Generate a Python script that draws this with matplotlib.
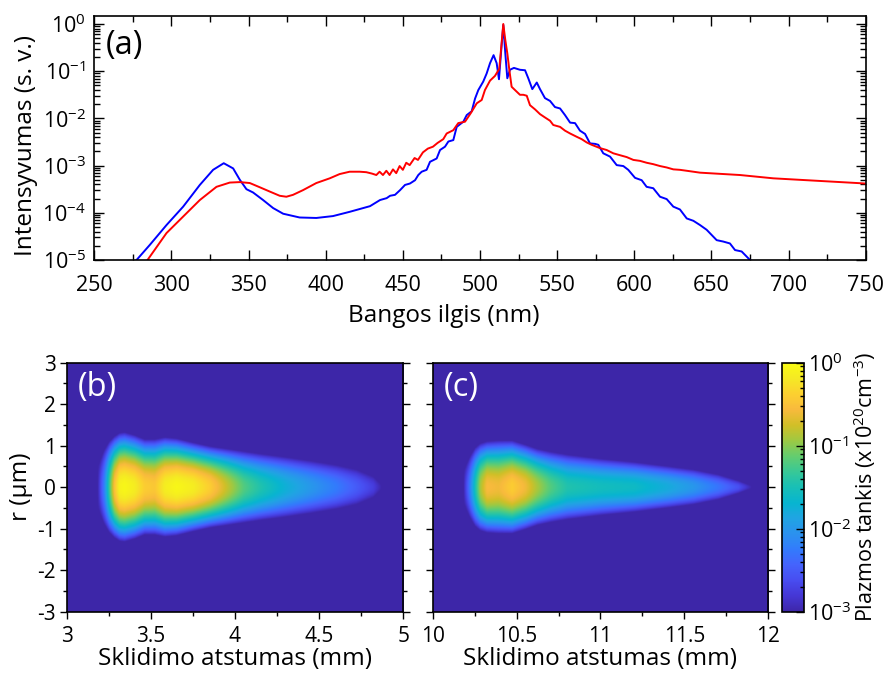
import matplotlib
matplotlib.use("Agg")
import matplotlib.pyplot as plt
import numpy as np
from matplotlib.colors import LinearSegmentedColormap, LogNorm
from matplotlib.ticker import (LogLocator, MultipleLocator, LogFormatterMathtext,
                               NullFormatter, FuncFormatter)

plt.rcParams['font.family'] = ['Open Sans', 'DejaVu Sans']
plt.rcParams['mathtext.fontset'] = 'custom'
plt.rcParams['mathtext.rm'] = 'Open Sans'
plt.rcParams['mathtext.it'] = 'Open Sans:italic'
plt.rcParams['mathtext.bf'] = 'Open Sans:bold'

# --- spectra (log10 of intensity, a.u.) ---
wl_blue = [277.4, 286.0, 296.8, 307.6, 318.4, 327.0, 333.9, 340.0, 344.3, 348.6,
           352.9, 359.4, 365.9, 372.4, 383.1, 393.9, 404.7, 415.5, 428.7, 435.2,
           439.5, 441.7, 444.9, 448.2, 451.4, 454.6, 457.9, 460.0, 462.2, 465.4,
           467.6, 471.9, 474.1, 477.3, 479.5, 482.7, 484.9, 489.2, 491.4, 494.6,
           496.8, 498.9, 502.1, 504.3, 506.5, 508.8, 510.8, 512.3, 513.6, 515.1,
           516.4, 517.7, 519.4, 522.0, 525.9, 529.2, 531.3, 533.9, 536.8, 538.9,
           542.1, 545.4, 548.6, 551.9, 555.1, 558.4, 561.6, 564.8, 568.1, 571.3,
           574.6, 576.7, 579.9, 584.3, 588.6, 592.9, 596.1, 600.5, 604.8, 608.0,
           612.3, 616.7, 621.0, 625.3, 629.6, 634.0, 638.3, 642.6, 646.9, 653.4,
           657.7, 662.0, 665.3, 669.6, 675.0]
log_blue = [-5.00, -4.68, -4.26, -3.87, -3.41, -3.09, -2.95, -3.06, -3.30, -3.50,
            -3.57, -3.73, -3.90, -4.02, -4.10, -4.11, -4.07, -3.98, -3.86, -3.73,
            -3.69, -3.64, -3.62, -3.52, -3.41, -3.38, -3.31, -3.20, -3.13, -3.09,
            -2.92, -2.85, -2.67, -2.60, -2.49, -2.46, -2.18, -2.07, -1.93, -1.85,
            -1.58, -1.40, -1.22, -1.05, -0.83, -0.66, -0.83, -1.17, -0.62, -0.02,
            -0.62, -1.15, -0.97, -0.93, -0.97, -0.98, -1.15, -1.38, -1.24, -1.38,
            -1.57, -1.63, -1.76, -1.79, -1.93, -2.09, -2.10, -2.26, -2.33, -2.53,
            -2.54, -2.56, -2.74, -2.81, -2.99, -3.01, -3.09, -3.26, -3.31, -3.45,
            -3.48, -3.66, -3.71, -3.87, -3.93, -4.12, -4.17, -4.26, -4.36, -4.58,
            -4.61, -4.65, -4.79, -4.82, -5.00]

wl_red = [284.5, 296.8, 307.6, 318.4, 329.2, 337.8, 344.3, 350.8, 357.3, 363.7,
          370.2, 374.5, 378.8, 385.3, 393.9, 402.6, 409.0, 415.5, 422.0, 426.3,
          430.0, 432.8, 434.9, 437.1, 439.3, 441.4, 443.6, 445.7, 447.9, 450.0,
          452.2, 454.4, 457.6, 459.8, 463.0, 466.2, 469.5, 472.5, 476.2, 478.4,
          482.7, 485.9, 490.3, 494.0, 497.9, 501.1, 503.2, 506.5, 509.7, 512.5,
          513.8, 515.1, 516.4, 517.7, 519.0, 520.5, 522.7, 525.9, 528.1, 530.3,
          532.4, 535.7, 538.9, 542.1, 545.4, 547.5, 551.9, 555.1, 558.4, 562.7,
          565.9, 569.2, 572.4, 577.8, 582.1, 586.4, 590.7, 595.1, 599.4, 603.7,
          608.0, 612.3, 616.7, 621.0, 625.3, 629.6, 634.0, 642.6, 668.5, 690.1,
          711.8, 750.0]
log_red = [-5.00, -4.43, -4.08, -3.73, -3.45, -3.36, -3.35, -3.37, -3.46, -3.55,
           -3.64, -3.66, -3.62, -3.52, -3.37, -3.27, -3.18, -3.13, -3.13, -3.14,
           -3.17, -3.20, -3.13, -3.20, -3.11, -3.20, -3.08, -3.16, -3.01, -3.09,
           -2.94, -2.99, -2.84, -2.88, -2.72, -2.64, -2.60, -2.52, -2.44, -2.32,
           -2.25, -2.10, -2.07, -1.89, -1.68, -1.61, -1.40, -1.20, -1.10, -0.95,
           -0.48, 0.00, -0.34, -0.62, -0.97, -1.33, -1.40, -1.50, -1.50, -1.52,
           -1.72, -1.81, -1.91, -1.98, -2.05, -2.14, -2.18, -2.26, -2.32, -2.39,
           -2.44, -2.51, -2.56, -2.63, -2.67, -2.74, -2.78, -2.82, -2.88, -2.90,
           -2.94, -2.97, -3.01, -3.04, -3.08, -3.09, -3.11, -3.15, -3.20, -3.27,
           -3.31, -3.38]

# --- plasma channel: on-axis log10 density and outer radius (um) along z (mm) ---
z_b = [3.18, 3.22, 3.25, 3.28, 3.31, 3.34, 3.40, 3.46, 3.52, 3.58, 3.65, 3.75,
       3.85, 3.95, 4.05, 4.15, 4.30, 4.45, 4.60, 4.72, 4.82, 4.87]
core_b = [-3.0, -2.2, -1.3, -0.5, -0.1, -0.05, -0.15, -0.4, -0.45, -0.15, -0.05,
          -0.15, -0.4, -0.8, -1.2, -1.45, -1.75, -2.0, -2.25, -2.5, -2.75, -3.0]
radius_b = [0.5, 0.9, 1.1, 1.22, 1.3, 1.32, 1.25, 1.15, 1.15, 1.2, 1.17, 1.07,
            0.98, 0.92, 0.86, 0.8, 0.72, 0.63, 0.53, 0.42, 0.25, 0.05]

z_c = [10.18, 10.22, 10.25, 10.28, 10.32, 10.39, 10.47, 10.55, 10.62, 10.70,
       10.80, 11.00, 11.20, 11.40, 11.55, 11.70, 11.82, 11.90]
core_c = [-3.0, -2.2, -1.5, -0.9, -0.55, -0.6, -0.4, -0.6, -0.9, -1.2,
          -1.45, -1.55, -1.6, -1.8, -2.0, -2.3, -2.6, -3.0]
radius_c = [0.4, 0.75, 0.95, 1.05, 1.1, 1.12, 1.12, 1.02, 0.92, 0.85,
            0.78, 0.68, 0.6, 0.5, 0.42, 0.3, 0.15, 0.03]

# MATLAB parula (R2014b), every 4th entry
parula = LinearSegmentedColormap.from_list('parula', [
    [0.2422, 0.1504, 0.6603], [0.2706, 0.2147, 0.8364], [0.2813, 0.3006, 0.9414],
    [0.2699, 0.3892, 0.9906], [0.1963, 0.4847, 0.9892], [0.1687, 0.5703, 0.9359],
    [0.1248, 0.6459, 0.8883], [0.0297, 0.7082, 0.8163], [0.0964, 0.7500, 0.7120],
    [0.2161, 0.7843, 0.5923], [0.3909, 0.8029, 0.4354], [0.6174, 0.7876, 0.2612],
    [0.8203, 0.7498, 0.1535], [0.9728, 0.7298, 0.2394], [0.9892, 0.8136, 0.1885],
    [0.9597, 0.9135, 0.1423], [0.9769, 0.9839, 0.0805]], N=256)


def density_map(z, core, radius, zlim):
    """Axisymmetric density: parabolic fall-off in log10 from the axis to the edge."""
    zz = np.linspace(zlim[0], zlim[1], 500)
    rr = np.linspace(-3, 3, 400)
    c = np.interp(zz, z, core, left=-3, right=-3)
    R = np.maximum(np.interp(zz, z, radius, left=0.01, right=0.01), 0.01)
    C, RR = np.meshgrid(c, rr)
    Redge, _ = np.meshgrid(R, rr)
    frac = np.clip(np.abs(RR) / Redge, 0, 1)
    logn = C - (C + 3) * frac ** 2
    return 10 ** np.clip(logn, -3, 0)


fig = plt.figure(figsize=(8.83, 6.77), dpi=100)
LFS = 17.5    # axis labels
PFS = 23.5    # panel tags

# ---- (a) spectra ----
ax = fig.add_axes([0.1068, 0.6160, 0.8736, 0.3604])
ax.semilogy(wl_blue, 10 ** np.array(log_blue), color='#0000ff', lw=1.4)
ax.semilogy(wl_red, 10 ** np.array(log_red), color='#ff0000', lw=1.4)
ax.set_xlim(250, 750)
ax.set_ylim(1e-5, 10 ** 0.17)
ax.xaxis.set_major_locator(MultipleLocator(50))
ax.xaxis.set_minor_locator(MultipleLocator(25))
ax.yaxis.set_major_locator(LogLocator(base=10, numticks=10))
ax.yaxis.set_minor_locator(LogLocator(base=10, subs=np.arange(2, 10), numticks=10))
ax.yaxis.set_major_formatter(LogFormatterMathtext())
ax.yaxis.set_minor_formatter(NullFormatter())
ax.tick_params(which='both', direction='in', top=True, right=True, labelsize=15.5, width=1)
ax.tick_params(axis='x', pad=10.5)
ax.tick_params(axis='y', pad=6)
ax.tick_params(which='major', length=7)
ax.tick_params(which='minor', length=4)
ax.set_xlabel('Bangos ilgis (nm)', fontsize=LFS, va='top')
ax.xaxis.set_label_coords(0.4533, -0.182)
ax.set_ylabel('Intensyvumas (s. v.)', fontsize=LFS)
ax.yaxis.set_label_coords(-0.073, 0.47)
ax.text(0.0152, 0.945, '(a)', transform=ax.transAxes, fontsize=PFS, va='top', ha='left')
for s in ax.spines.values():
    s.set_linewidth(1.2)

norm = LogNorm(vmin=1e-3, vmax=1)
fmt = FuncFormatter(lambda v, p: f'{v:g}')

# ---- (b) and (c) density maps ----
panels = [
    ([0.0755, 0.0965, 0.3812, 0.3678], z_b, core_b, radius_b, (3, 5), '(b)', True),
    ([0.4900, 0.0965, 0.3801, 0.3678], z_c, core_c, radius_c, (10, 12), '(c)', False),
]
for rect, z, core, radius, zlim, tag, ylab in panels:
    axm = fig.add_axes(rect)
    img = density_map(z, core, radius, zlim)
    im = axm.imshow(img, extent=[zlim[0], zlim[1], -3, 3], origin='lower',
                    aspect='auto', cmap=parula, norm=norm, interpolation='bilinear')
    axm.set_xlim(*zlim)
    axm.set_ylim(-3, 3)
    axm.xaxis.set_major_locator(MultipleLocator(0.5))
    axm.xaxis.set_minor_locator(MultipleLocator(0.25))
    axm.yaxis.set_major_locator(MultipleLocator(1))
    axm.yaxis.set_minor_locator(MultipleLocator(0.5))
    axm.xaxis.set_major_formatter(fmt)
    axm.yaxis.set_major_formatter(fmt)
    axm.tick_params(which='both', direction='out', top=False, right=True,
                    labelsize=15, width=1)
    axm.tick_params(axis='x', pad=5.5)
    axm.tick_params(axis='y', pad=2.5)
    axm.tick_params(which='major', length=5)
    axm.tick_params(which='minor', length=3)
    axm.set_xlabel('Sklidimo atstumas (mm)', fontsize=LFS, labelpad=0)
    if ylab:
        axm.set_ylabel('r (µm)', fontsize=LFS, labelpad=3)
    else:
        axm.tick_params(labelleft=False)
    axm.text(0.0336, 0.965, tag, transform=axm.transAxes, fontsize=PFS, color='white',
             va='top', ha='left')
    for s in axm.spines.values():
        s.set_linewidth(1.2)

cax = fig.add_axes([0.8853, 0.0965, 0.0253, 0.3678])
cb = fig.colorbar(im, cax=cax)
cb.set_ticks([1e-3, 1e-2, 1e-1, 1e0])
cb.ax.yaxis.set_major_formatter(LogFormatterMathtext())
cb.ax.yaxis.set_minor_formatter(NullFormatter())
cb.ax.tick_params(which='both', direction='in', right=True, labelsize=15.5, width=1, pad=3)
cb.ax.tick_params(which='major', length=6)
cb.ax.tick_params(which='minor', length=3)
cb.outline.set_linewidth(1.2)
cb.set_label('Plazmos tankis (x10$^{20}$cm$^{-3}$)', fontsize=15.5, labelpad=0)

fig.savefig('out.png', dpi=100)
